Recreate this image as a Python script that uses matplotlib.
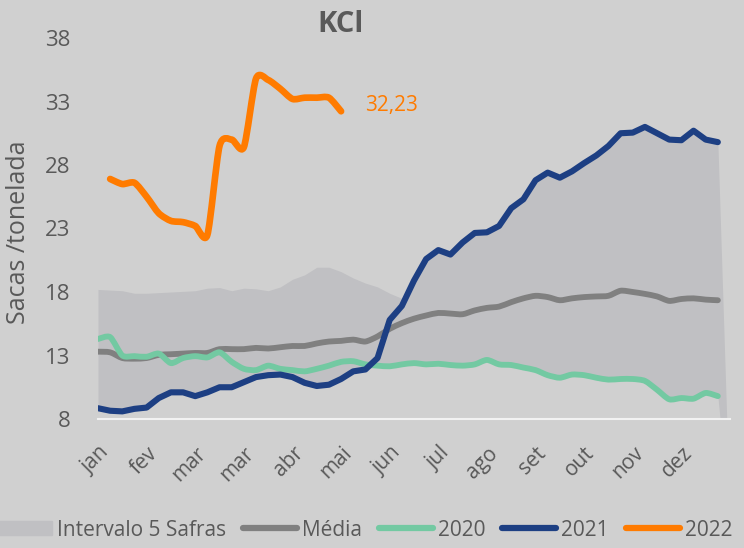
import numpy as np
import matplotlib.pyplot as plt
from matplotlib.lines import Line2D
from matplotlib.patches import Patch, PathPatch
from matplotlib.path import Path
from matplotlib.transforms import ScaledTranslation

# semanas (indice de categoria) e rotulos de mes a cada 4 semanas
meses = ["jan", "fev", "mar", "mar", "abr", "mai", "jun", "jul", "ago", "set", "out", "nov", "dez"]

media = [13.3, 13.25, 12.8, 12.75, 12.8, 13.05, 13.1, 13.15, 13.2, 13.2,
         13.5, 13.5, 13.5, 13.6, 13.55, 13.65, 13.75, 13.75, 13.95, 14.1,
         14.15, 14.25, 14.1, 14.5, 15.1, 15.55, 15.9, 16.15, 16.35, 16.3,
         16.25, 16.55, 16.75, 16.85, 17.2, 17.5, 17.7, 17.6, 17.35, 17.5,
         17.6, 17.65, 17.7, 18.1, 18.0, 17.85, 17.65, 17.3, 17.45, 17.5,
         17.4, 17.35]

s2020 = [14.3, 14.45, 13.0, 12.95, 12.9, 13.15, 12.4, 12.8, 12.95, 12.85,
         13.25, 12.5, 11.95, 11.85, 12.2, 11.95, 11.85, 11.75, 11.95, 12.2,
         12.5, 12.55, 12.3, 12.2, 12.15, 12.3, 12.4, 12.3, 12.35, 12.25,
         12.2, 12.3, 12.65, 12.3, 12.25, 12.05, 11.85, 11.45, 11.25, 11.5,
         11.45, 11.25, 11.1, 11.15, 11.15, 11.0, 10.3, 9.55, 9.65, 9.6,
         10.05, 9.8]

s2021 = [8.85, 8.65, 8.6, 8.8, 8.9, 9.65, 10.1, 10.1, 9.8, 10.1,
         10.5, 10.5, 10.9, 11.3, 11.45, 11.5, 11.3, 10.85, 10.6, 10.7,
         11.15, 11.75, 11.9, 12.8, 15.8, 16.9, 18.9, 20.6, 21.3, 20.95,
         21.9, 22.65, 22.7, 23.2, 24.6, 25.3, 26.8, 27.4, 27.0, 27.5,
         28.15, 28.75, 29.5, 30.5, 30.55, 31.0, 30.5, 30.0, 29.95, 30.7,
         30.0, 29.8]

# 2022 comeca na semana 1
s2022 = [26.9, 26.5, 26.6, 25.5, 24.2, 23.6, 23.5, 23.2, 22.5, 29.5,
         30.0, 29.4, 34.8, 34.7, 34.0, 33.2, 33.3, 33.3, 33.3, 32.23]
ultimo_2022 = "32,23"

# maximo das outras safras (visivel so no 1o semestre)
outras_max = [18.2, 18.15, 18.1, 17.9, 17.9, 17.95, 18.0, 18.05, 18.1, 18.3,
              18.35, 18.1, 18.3, 18.25, 18.1, 18.4, 19.0, 19.35, 19.95, 19.95,
              19.6, 19.1, 18.7, 18.4, 17.9, 17.5, 17.3]

BG = "#d0d0d0"
TXT = "#595959"
BAND = "#c0c0c3"
C_MEDIA = "#808080"
C_2020 = "#73c9a2"
C_2021 = "#1d3f83"
C_2022 = "#ff7b00"

plt.rcParams["font.family"] = ["Open Sans", "DejaVu Sans"]


def linha_suave(ax, xs, ys, **kw):
    # curva suavizada (bezier) passando pelos pontos, tensao moderada
    p = np.column_stack([xs, ys]).astype(float)
    verts, codes = [p[0]], [Path.MOVETO]
    for i in range(len(p) - 1):
        p0 = p[i - 1] if i > 0 else p[i]
        p3 = p[i + 2] if i + 2 < len(p) else p[i + 1]
        verts += [p[i] + (p[i + 1] - p0) / 8, p[i + 1] - (p3 - p[i]) / 8, p[i + 1]]
        codes += [Path.CURVE4] * 3
    ax.add_patch(PathPatch(Path(verts, codes), fill=False, capstyle="round",
                           joinstyle="round", **kw))


n = len(media)
x = np.arange(n)
topo = np.fmax(np.r_[outras_max, [np.nan] * (n - len(outras_max))],
               np.maximum(s2021, s2020))
base = np.minimum(s2020, s2021)
# a ultima categoria do intervalo vale zero
xb = np.r_[x, n]
topo = np.r_[topo, 0]
base = np.r_[base, 0]

fig = plt.figure(figsize=(7.44, 5.48), dpi=100, facecolor=BG)
ax = fig.add_axes([98 / 744, 129 / 548, 632 / 744, 381 / 548])
ax.set_facecolor(BG)

ax.fill_between(xb, base, topo, color=BAND, lw=0, zorder=1)
linha_suave(ax, x, media, edgecolor=C_MEDIA, lw=4.2, zorder=2)
linha_suave(ax, x, s2020, edgecolor=C_2020, lw=4.2, zorder=3)
ax.plot(x, s2021, color=C_2021, lw=4.4, zorder=4,
        solid_capstyle="round", solid_joinstyle="round")
x22 = np.arange(1, len(s2022) + 1)
linha_suave(ax, x22, s2022, edgecolor=C_2022, lw=4.8, zorder=5)
ax.text(x22[-1] + 2, s2022[-1], ultimo_2022, color=C_2022, fontsize=15,
        ha="left", va="baseline")

ax.set_xlim(0, n)
ax.set_ylim(8, 38)
ax.set_yticks(range(8, 39, 5))
ax.set_xticks(np.arange(len(meses)) * 4)
ax.set_xticklabels(meses, rotation=45, ha="right", va="top", rotation_mode="anchor")
off = ScaledTranslation(7 / 100, 0, fig.dpi_scale_trans)
for lab in ax.get_xticklabels():
    lab.set_transform(lab.get_transform() + off)
ax.tick_params(axis="x", length=0, pad=17, labelsize=15, labelcolor=TXT)
ax.tick_params(axis="y", length=0, pad=20, labelsize=16, labelcolor=TXT)
for s in ("top", "right", "left"):
    ax.spines[s].set_visible(False)
ax.spines["bottom"].set_color("#f2f2f2")
ax.spines["bottom"].set_linewidth(1.5)

fig.text(340 / 744, 1 - 25 / 548, "KCl", ha="center", va="center",
         fontsize=21, fontweight="bold", color=TXT)
fig.text(19 / 744, 1 - 232 / 548, "Sacas /tonelada", rotation=90,
         ha="center", va="center", fontsize=18, color=TXT)

handles = [Patch(color=BAND),
           Line2D([], [], color=C_MEDIA, lw=4.5, solid_capstyle="round"),
           Line2D([], [], color=C_2020, lw=4.5, solid_capstyle="round"),
           Line2D([], [], color=C_2021, lw=4.5, solid_capstyle="round"),
           Line2D([], [], color=C_2022, lw=4.5, solid_capstyle="round")]
labels = ["Intervalo 5 Safras", "Média", "2020", "2021", "2022"]
fig.legend(handles, labels, loc="center", bbox_to_anchor=(365 / 744, 18 / 548),
           ncol=5, frameon=False, fontsize=15, labelcolor=TXT,
           handlelength=2.6, handleheight=0.65, handletextpad=0.25,
           columnspacing=0.8, borderpad=0, borderaxespad=0)

fig.savefig("out.png", dpi=100, facecolor=BG)
